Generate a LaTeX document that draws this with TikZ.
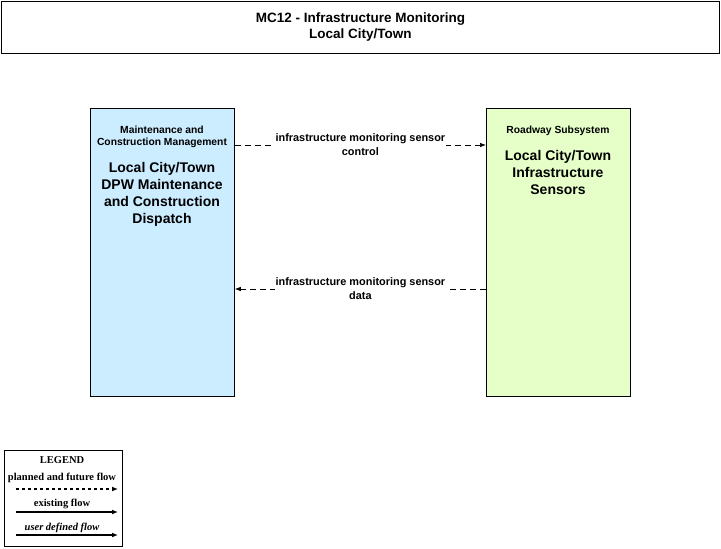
\documentclass[tikz,border=0pt]{standalone}
\usepackage{fontspec}
\setmainfont{Liberation Sans}
\newfontfamily\legfont{Liberation Serif}
\usetikzlibrary{arrows.meta}
\definecolor{mcmblue}{RGB}{204,236,255}
\definecolor{rsgreen}{RGB}{230,255,200}
\tikzset{
  ent/.style={draw=black, line width=0.8pt, minimum width=144pt, minimum height=288pt, anchor=north west, inner sep=0pt},
  cls/.style={font=\fontsize{10.3}{12}\selectfont\bfseries, align=center, anchor=north},
  big/.style={font=\fontsize{14}{17}\selectfont\bfseries, align=center, anchor=north},
  flow/.style={line width=0.7pt, dash pattern=on 6pt off 4pt, -{Latex[length=6pt,width=4.5pt]}},
  lbl/.style={fill=white, inner sep=1pt, font=\fontsize{10.9}{14}\selectfont\bfseries, align=center},
  legtxt/.style={font=\legfont\fontsize{10.5}{12}\selectfont\bfseries},
  legarrow/.style={line width=1.2pt, -{Latex[length=6pt,width=5pt]}}
}
\begin{document}
\begin{tikzpicture}[x=1pt,y=-1pt]
\useasboundingbox (0,0) rectangle (721,549);
\fill[white] (0,0) rectangle (721,549);
% title
\node[draw=black, line width=0.8pt, minimum width=718pt, minimum height=52pt, inner sep=0pt, anchor=north west,
      font=\fontsize{13.5}{16}\selectfont\bfseries, align=center] (title) at (1,1)
      {MC12 - Infrastructure Monitoring\\Local City/Town};
% entities
\node[ent, fill=mcmblue] (mcm) at (90,108) {};
\node[ent, fill=rsgreen] (rs) at (486,108) {};
\node[cls] (mcmcls) at (162,123) {Maintenance and\\Construction Management};
\node[big] (mcmname) at (162,159) {Local City/Town\\DPW Maintenance\\and Construction\\Dispatch};
\node[cls] (rscls) at (558,123) {Roadway Subsystem};
\node[big] (rsname) at (558,147) {Local City/Town\\Infrastructure\\Sensors};
% flows
\draw[flow] ([yshift=-37pt]mcm.north east) -- ([yshift=-37pt]rs.north west)
  node[midway, lbl] (f1) {infrastructure monitoring sensor\\control};
\draw[flow] ([yshift=-181pt]rs.north west) -- ([yshift=-181pt]mcm.north east)
  node[midway, lbl] (f2) {infrastructure monitoring sensor\\data};
% legend
\node[draw=black, line width=1pt, minimum width=118pt, minimum height=96pt, inner sep=0pt, anchor=north west] (legend) at (4,450) {};
\node[legtxt] (lg) at (62,460) {LEGEND};
\node[legtxt] (lg1) at (62,478) {planned and future flow};
\node[legtxt] (lg2) at (62,504) {existing flow};
\node[legtxt, font=\legfont\fontsize{10.5}{12}\selectfont\bfseries\itshape] (lg3) at (62,528) {user defined flow};
\coordinate (a1s) at (16,489); \coordinate (a1e) at (118,489);
\coordinate (a2s) at (16,512); \coordinate (a2e) at (118,512);
\coordinate (a3s) at (16,535); \coordinate (a3e) at (118,535);
\draw[legarrow, dash pattern=on 3pt off 3pt] (a1s) -- (a1e);
\draw[legarrow] (a2s) -- (a2e);
\draw[legarrow] (a3s) -- (a3e);
\end{tikzpicture}
\end{document}
